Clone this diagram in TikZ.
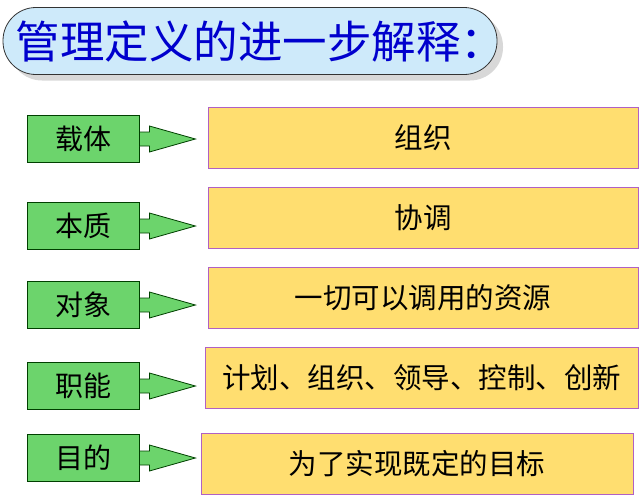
\documentclass[tikz,border=0pt]{standalone}
\usepackage{fontspec}
\setmainfont{Noto Sans CJK SC}
\usetikzlibrary{positioning,shadows,calc}

\definecolor{titlefill}{RGB}{206,234,250}
\definecolor{titletext}{RGB}{0,0,205}
\definecolor{namefill}{RGB}{108,212,108}
\definecolor{itemfill}{RGB}{255,222,112}
\definecolor{itemedge}{RGB}{176,96,196}

\begin{document}
\begin{tikzpicture}[
    x=1pt, y=-1pt,
    titlebox/.style={
        rectangle, rounded corners=33pt,
        draw=black!80, thick, fill=titlefill,
        minimum width=494pt, minimum height=67pt, inner xsep=0pt,
        drop shadow={shadow xshift=6pt, shadow yshift=-6pt, fill=black!30},
        text=titletext, font=\fontsize{44.5}{48}\selectfont
    },
    namebox/.style={
        rectangle, draw=black!75!green, thick, fill=namefill,
        minimum width=112pt, minimum height=47pt,
        font=\fontsize{28}{32}\selectfont
    },
    itembox/.style={
        rectangle, draw=itemedge, thick, fill=itemfill,
        minimum width=430pt, minimum height=61pt,
        font=\fontsize{28.5}{32}\selectfont
    },
    fatarrow/.style={draw=black!75!green, thick, fill=namefill}
]
\useasboundingbox (0,0) rectangle (640,496);

\node[titlebox] (title) at (250,41) {\makebox[468pt][l]{管理定义的进一步解释：}};

\node[namebox] (zt) at (83,139) {载体};
\node[namebox] (bz) at (83,226) {本质};
\node[namebox] (dx) at (83,305) {对象};
\node[namebox] (zn) at (83,386) {职能};
\node[namebox] (md) at (83,458) {目的};

\node[itembox] (zz) at (423,138) {组织};
\node[itembox] (xt) at (423,218) {协调};
\node[itembox] (zy) at (423,298) {一切可以调用的资源};
\node[itembox, minimum width=433pt] (gn) at (421.5,378) {计划、组织、领导、控制、创新};
\node[itembox, minimum width=432pt] (mb) at (417,464) {为了实现既定的目标};

\draw[fatarrow] ($(zt.east)+(0,-7)$) -- ++(10,0) -- ++(0,-6) -- ($(zt.east)+(56,0)$)
    -- ($(zt.east)+(10,13)$) -- ++(0,-6) -- ++(-10,0) -- cycle;
\draw[fatarrow] ($(bz.east)+(0,-7)$) -- ++(10,0) -- ++(0,-6) -- ($(bz.east)+(56,0)$)
    -- ($(bz.east)+(10,13)$) -- ++(0,-6) -- ++(-10,0) -- cycle;
\draw[fatarrow] ($(dx.east)+(0,-7)$) -- ++(10,0) -- ++(0,-6) -- ($(dx.east)+(56,0)$)
    -- ($(dx.east)+(10,13)$) -- ++(0,-6) -- ++(-10,0) -- cycle;
\draw[fatarrow] ($(zn.east)+(0,-7)$) -- ++(10,0) -- ++(0,-6) -- ($(zn.east)+(56,0)$)
    -- ($(zn.east)+(10,13)$) -- ++(0,-6) -- ++(-10,0) -- cycle;
\draw[fatarrow] ($(md.east)+(0,-7)$) -- ++(10,0) -- ++(0,-6) -- ($(md.east)+(56,0)$)
    -- ($(md.east)+(10,13)$) -- ++(0,-6) -- ++(-10,0) -- cycle;

\end{tikzpicture}
\end{document}
